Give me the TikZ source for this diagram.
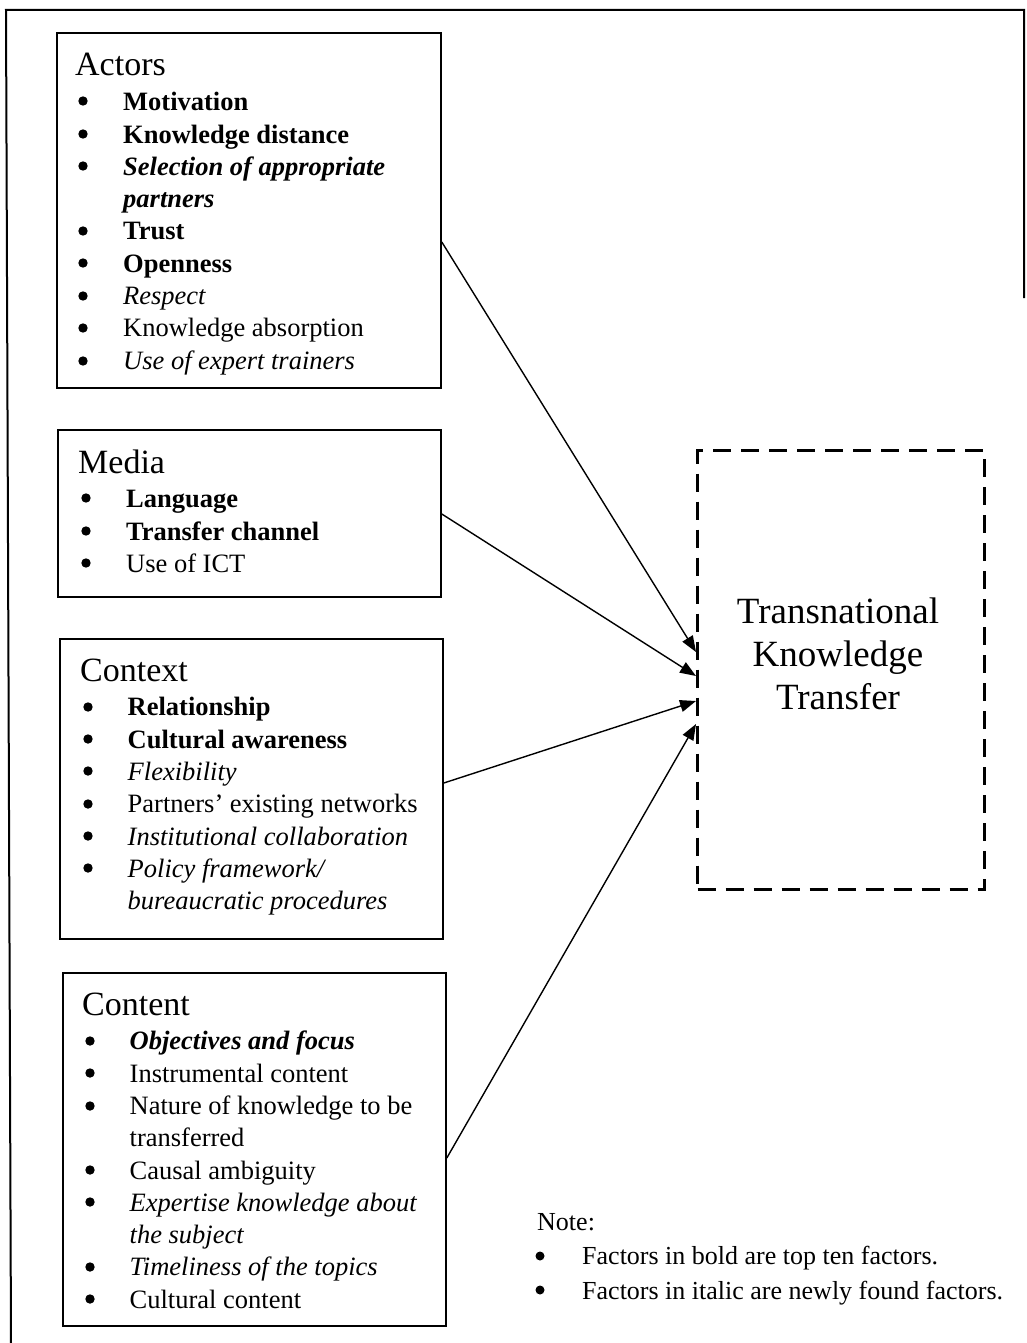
\documentclass[tikz,border=0pt]{standalone}
\usepackage{fontspec}
\setmainfont{Liberation Serif}
\usepackage{array}
\usetikzlibrary{arrows.meta}

% font sizes (1pt = one unit of the drawing grid)
\newcommand\hdfont{\fontsize{34}{40}\selectfont}
\newcommand\bdfont{\fontsize{26.5}{32.3}\selectfont}
\newcommand\tkfont{\fontsize{37}{43}\selectfont}

\tikzset{
  frame/.style={line width=2pt},
  factorbox/.style={draw, line width=1.8pt, inner sep=0pt, anchor=north west},
  listtext/.style={anchor=base west, inner sep=0pt, font=\bdfont},
  link/.style={line width=1.4pt, -{Triangle[length=16pt,width=12pt]}},
  target/.style={draw, line width=3pt, dash pattern=on 18pt off 10pt, inner sep=0pt, anchor=north west},
  listdot/.style={fill=black},
}

\begin{document}
\begin{tikzpicture}[x=1pt, y=-1pt]
\useasboundingbox (0,0) rectangle (1026,1343);

% outer frame
\draw[frame] (11,1343) -- (6,10) -- (1024,10) -- (1024,298);

% factor group boxes
\node[factorbox, minimum width=384pt, minimum height=355pt] (actors)  at (56,32) {};
\node[factorbox, minimum width=383pt, minimum height=167pt] (media)   at (57,429) {};
\node[factorbox, minimum width=383pt, minimum height=300pt] (context) at (59,638) {};
\node[factorbox, minimum width=383pt, minimum height=353pt] (content) at (62,972) {};

% target box
\node[target, minimum width=287pt, minimum height=439pt] (tkt) at (696,449) {};
\node[inner sep=0pt, align=center, font=\tkfont] (tkttext) at (838,654)
  {Transnational\\Knowledge\\Transfer};

% lists (item text indented past the list markers)
\node[listtext] (actorslist) at (75,76) {\begin{tabular}[t]{@{\hspace{48pt}}l@{}}
\multicolumn{1}{@{}l@{}}{\hdfont Actors}\\[2.5pt]
\textbf{Motivation}\\
\textbf{Knowledge distance}\\
\textbf{\textit{Selection of appropriate}}\\
\textbf{\textit{partners}}\\
\textbf{Trust}\\
\textbf{Openness}\\
\textit{Respect}\\
Knowledge absorption\\
\textit{Use of expert trainers}
\end{tabular}};

\node[listtext] (medialist) at (78,473) {\begin{tabular}[t]{@{\hspace{48pt}}l@{}}
\multicolumn{1}{@{}l@{}}{\hdfont Media}\\[2.5pt]
\textbf{Language}\\
\textbf{Transfer channel}\\
Use of ICT
\end{tabular}};

\node[listtext] (contextlist) at (80,681) {\begin{tabular}[t]{@{\hspace{47.5pt}}l@{}}
\multicolumn{1}{@{}l@{}}{\hdfont Context}\\[2.5pt]
\textbf{Relationship}\\
\textbf{Cultural awareness}\\
\textit{Flexibility}\\
Partners’ existing networks\\
\textit{Institutional collaboration}\\
\textit{Policy framework/}\\
\textit{bureaucratic procedures}
\end{tabular}};

\node[listtext] (contentlist) at (82,1015) {\begin{tabular}[t]{@{\hspace{47.5pt}}l@{}}
\multicolumn{1}{@{}l@{}}{\hdfont Content}\\[2.5pt]
\textbf{\textit{Objectives and focus}}\\
Instrumental content\\
Nature of knowledge to be\\
transferred\\
Causal ambiguity\\
\textit{Expertise knowledge about}\\
\textit{the subject}\\
\textit{Timeliness of the topics}\\
Cultural content
\end{tabular}};

% legend
\node[listtext, font=\fontsize{26}{34.5}\selectfont] (note) at (537,1230) {\begin{tabular}[t]{@{\hspace{45pt}}l@{}}
\multicolumn{1}{@{}l@{}}{Note:}\\
Factors in bold are top ten factors.\\
Factors in italic are newly found factors.
\end{tabular}};

% list markers
\foreach \y in {101,134,166,231,263,296,328,361} \fill[listdot] (83,\y) circle (4.7);
\foreach \y in {498,531,563} \fill[listdot] (86,\y) circle (4.7);
\foreach \y in {707,739,771,804,836,868} \fill[listdot] (88,\y) circle (4.7);
\foreach \y in {1041,1073,1106,1170,1202,1267,1299} \fill[listdot] (90,\y) circle (4.7);
\foreach \y in {1256,1290} \fill[listdot] (540,\y) circle (4.5);

% connectors
\draw[link] (actors.east  |- 0,242)  -- (tkt.west |- 0,652);
\draw[link] (media.east   |- 0,514)  -- (tkt.west |- 0,676);
\draw[link] (context.east |- 0,783)  -- (tkt.west |- 0,701);
\draw[link] (content.east |- 0,1158) -- (tkt.west |- 0,724);
\end{tikzpicture}
\end{document}
